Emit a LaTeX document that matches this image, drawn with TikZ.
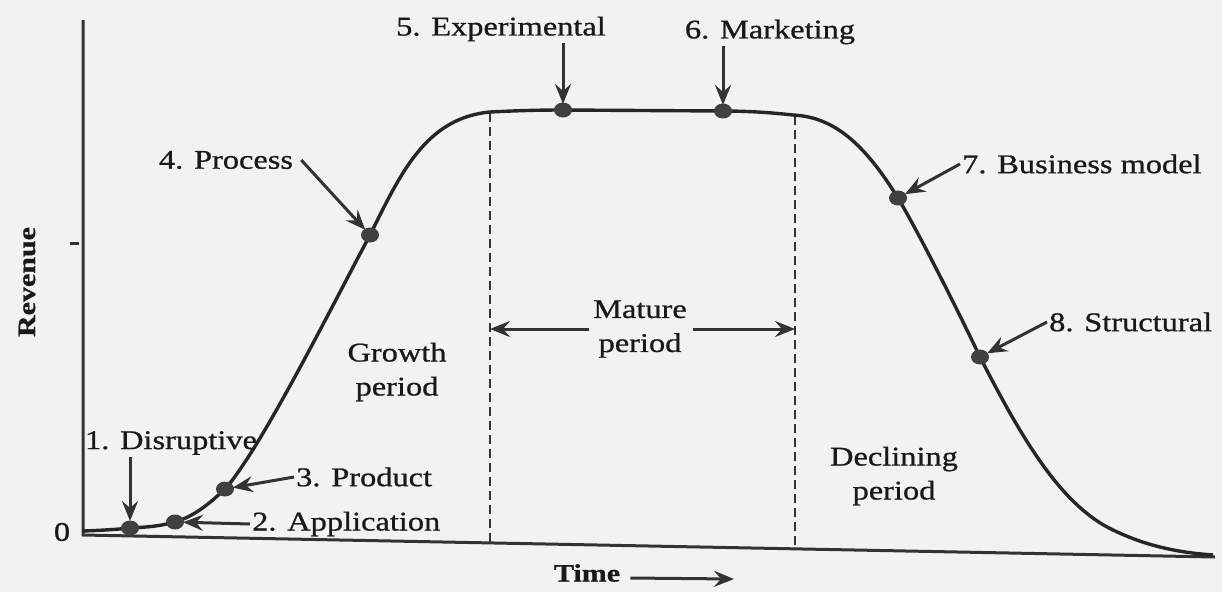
\documentclass[tikz,border=0pt]{standalone}
\usepackage{fontspec}
\setmainfont{Liberation Serif}[FakeStretch=1.2,FakeBold=0.8]
\usetikzlibrary{positioning,arrows.meta}

\begin{document}
\begin{tikzpicture}[x=1pt,y=-1pt,
  lbl/.style={font=\fontsize{27}{34}\selectfont, text=black!90, inner sep=2pt},
  period/.style={lbl, align=center},
  axislbl/.style={font=\fontsize{25}{30}\selectfont\bfseries, text=black!90, inner sep=2pt},
  pointer/.style={-{Stealth[length=20pt,width=16pt,inset=7pt]}, line width=3pt, draw=black!80},
  axis/.style={line width=3pt, draw=black!80},
  curve/.style={line width=3.4pt, draw=black!85},
  guide/.style={line width=2pt, draw=black!80, dash pattern=on 9pt off 5pt},
  dot/.style={fill=black!75}]
\useasboundingbox[fill=black!5] (0,0) rectangle (1222,592);

% axes
\coordinate (ytop) at (83,20);
\coordinate (O) at (83,535);
\coordinate (xend) at (1215,557);
\draw[axis] (ytop) -- (O) -- (xend);
\draw[axis] (70,243) -- (79,243);
\node[lbl] (zero) at (62,532) {0};
\node[axislbl, rotate=90] (rev) at (27,282) {Revenue};
\node[axislbl] (time) at (587,573) {Time};
\coordinate (tend) at (734,579);
\draw[pointer] ([xshift=8pt,yshift=-5pt]time.east) -- (tend);

% points on the curve
\coordinate (p1) at (130,528);
\coordinate (p2) at (175,522);
\coordinate (p3) at (225,489);
\coordinate (p4) at (370,235);
\coordinate (p5) at (563,110);
\coordinate (p6) at (723,111);
\coordinate (p7) at (898,198);
\coordinate (p8) at (980,357);

% period borders
\coordinate (d1top) at (490,113);
\coordinate (d1bot) at (490,543);
\coordinate (d2top) at (795,116);
\coordinate (d2bot) at (795,549);
\draw[guide] (d1top) -- (d1bot);
\draw[guide] (d2top) -- (d2bot);

% the curve
\draw[curve] (83,531) .. controls (110,530) and (120,529) .. (p1)
  .. controls (150,527) and (160,526) .. (p2)
  .. controls (195,516) and (210,503) .. (p3)
  .. controls (260,450) and (330,310) .. (p4)
  .. controls (400,175) and (425,118) .. (490,112)
  .. controls (520,110.5) and (540,110) .. (p5) -- (p6)
  .. controls (750,111) and (775,113) .. (793,115)
  .. controls (835,117) and (865,145) .. (p7)
  .. controls (920,235) and (960,315) .. (p8)
  .. controls (1020,435) and (1060,505) .. (1113,530)
  .. controls (1140,543) and (1170,552) .. (1213,555);

\foreach \p in {p1,p2,p3,p4,p5,p6,p7,p8}
  \fill[dot] (\p) ellipse (9pt and 7.5pt);

% labels
\node[lbl] (l1) at (171,443) {1. Disruptive};
\node[lbl, anchor=west] (l2) at (250,524) {2. Application};
\node[lbl, anchor=west] (l3) at (294,477) {3. Product};
\node[lbl] (l4) at (226,160) {4. Process};
\node[lbl] (l5) at (501,29) {5. Experimental};
\node[lbl] (l6) at (770,32) {6. Marketing};
\node[lbl, anchor=west] (l7) at (960,164) {7. Business model};
\node[lbl, anchor=west] (l8) at (1047,322) {8. Structural};

\draw[pointer, shorten >=7pt] (p1 |- l1.south) -- (p1);
\draw[pointer, shorten >=8pt] (l2.west) -- (p2);
\draw[pointer, shorten >=8pt] (l3.west) -- (p3);
\draw[pointer, shorten >=7pt] ([xshift=6pt]l4.east) -- (p4);
\draw[pointer, shorten >=6pt] (p5 |- l5.south) -- (p5);
\draw[pointer, shorten >=6pt] (p6 |- l6.south) -- (p6);
\draw[pointer, shorten >=8pt] (l7.west) -- (p7);
\draw[pointer, shorten >=8pt] (l8.west) -- (p8);

% periods
\node[period] (grow) at (397,372) {Growth\\period};
\node[period] (mat) at (640,329) {Mature\\period};
\node[period] (decl) at (894,476) {Declining\\period};
\draw[pointer] ([xshift=-2pt]mat.west) -- (mat.west -| d1top);
\draw[pointer] ([xshift=4pt]mat.east) -- (mat.east -| d2top);
\end{tikzpicture}
\end{document}
